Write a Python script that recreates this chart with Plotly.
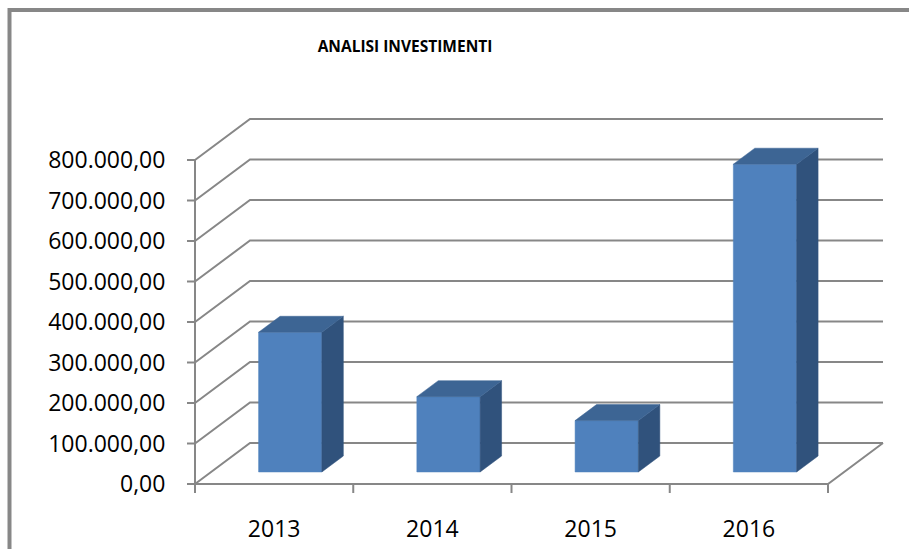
import plotly.graph_objects as go

# ---------------- data ----------------
categories = ["2013", "2014", "2015", "2016"]
values = [345000, 186000, 127000, 760000]
tick_values = [0, 100000, 200000, 300000, 400000, 500000, 600000, 700000, 800000]
tick_labels = ["0,00", "100.000,00", "200.000,00", "300.000,00", "400.000,00",
               "500.000,00", "600.000,00", "700.000,00", "800.000,00"]
title_text = "ANALISI INVESTIMENTI"

# ---------------- styling / geometry ----------------
FIG_W, FIG_H = 909, 549
PXX = 1 / 158.25            # category units per pixel
PXY = 100000 / 40.5         # value units per pixel
DX = 55 * PXX               # depth offset (x)
DY = 41 * PXY               # depth offset (y)
T0, T1 = 0.293, 0.683       # bar front/back depth fraction
BAR_W = 0.40
GRID = "#878787"
FRONT = "#4F81BD"
TOP = "#3D6594"
SIDE = "#30527C"
FONT = "Open Sans"

n = len(categories)
x_lo = -12 * PXX
x_hi = n + DX + 4 * PXX
y_lo = -12 * PXY
y_hi = max(tick_values) + DY + 4 * PXY

L_PX = 183                  # page px of plot left edge
B_PX = 496                  # page px of plot bottom edge
W_PX = round((x_hi - x_lo) / PXX)
H_PX = round((y_hi - y_lo) / PXY)
L_M = L_PX
B_M = FIG_H - B_PX
T_M = FIG_H - B_M - H_PX
R_M = FIG_W - L_M - W_PX

def px_to_paper_x(p):
    return (p - L_PX) / W_PX

def px_to_paper_y(p):
    return (B_PX - p) / H_PX

fig = go.Figure()

def line(xs, ys, color=GRID, width=2):
    fig.add_trace(go.Scatter(x=xs, y=ys, mode="lines",
                             line=dict(color=color, width=width),
                             hoverinfo="skip", showlegend=False))

def poly(xs, ys, color):
    fig.add_trace(go.Scatter(x=xs + [xs[0]], y=ys + [ys[0]], mode="lines",
                             fill="toself", fillcolor=color,
                             line=dict(color=color, width=0.5),
                             hoverinfo="skip", showlegend=False))

# gridlines: left wall diagonal + back wall horizontal
for v in tick_values:
    line([0, DX, n + DX], [v, v + DY, v + DY])
# floor: front edge and right diagonal
line([0, n, n + DX], [0, 0, DY])
# vertical axis line
line([0, 0], [0, max(tick_values)])
# y ticks
for v in tick_values:
    line([-8 * PXX, 0], [v, v])
# category ticks
for i in range(n + 1):
    line([i, i], [0, -9 * PXY])

# bars
for i, v in enumerate(values):
    xl = i + 0.5 - BAR_W / 2
    xr = i + 0.5 + BAR_W / 2
    fx, fy = T0 * DX, T0 * DY
    bx, by = T1 * DX, T1 * DY
    poly([xl + fx, xr + fx, xr + fx, xl + fx], [fy, fy, v + fy, v + fy], FRONT)
    poly([xr + fx, xr + bx, xr + bx, xr + fx], [fy, by, v + by, v + fy], SIDE)
    poly([xl + fx, xr + fx, xr + bx, xl + bx], [v + fy, v + fy, v + by, v + by], TOP)

fig.update_layout(
    width=FIG_W, height=FIG_H, autosize=False,
    margin=dict(l=L_M, r=R_M, t=T_M, b=B_M, pad=0, autoexpand=False),
    paper_bgcolor="white", plot_bgcolor="white",
    title=dict(text="<b>" + title_text + "</b>", x=405 / FIG_W, xref="container",
               xanchor="center", y=1 - 46.5 / FIG_H, yanchor="middle",
               font=dict(family=FONT, size=15.5, color="black")),
    xaxis=dict(range=[x_lo, x_hi], showgrid=False, zeroline=False, showline=False,
               automargin=False,
               tickmode="array", tickvals=[i + 0.5 for i in range(n)], ticktext=categories,
               ticks="outside", ticklen=12, tickcolor="rgba(0,0,0,0)",
               tickfont=dict(family=FONT, size=23, color="black"), fixedrange=True),
    yaxis=dict(range=[y_lo, y_hi], showgrid=False, zeroline=False, showline=False,
               automargin=False,
               tickmode="array", tickvals=tick_values, ticktext=tick_labels,
               ticks="outside", ticklen=12, tickcolor="rgba(0,0,0,0)",
               tickfont=dict(family=FONT, size=23, color="black"), fixedrange=True),
    shapes=[dict(type="path", xref="paper", yref="paper",
                 path="M {a},{b} L {a},{c} L {d},{c}".format(
                     a=px_to_paper_x(9.5), b=px_to_paper_y(FIG_H),
                     c=px_to_paper_y(10), d=px_to_paper_x(FIG_W)),
                 line=dict(color=GRID, width=4))],
)

fig.write_html("out.html",
               config={"displayModeBar": False, "staticPlot": True},
               post_script="document.body.style.margin='0';document.body.style.overflow='hidden';")
